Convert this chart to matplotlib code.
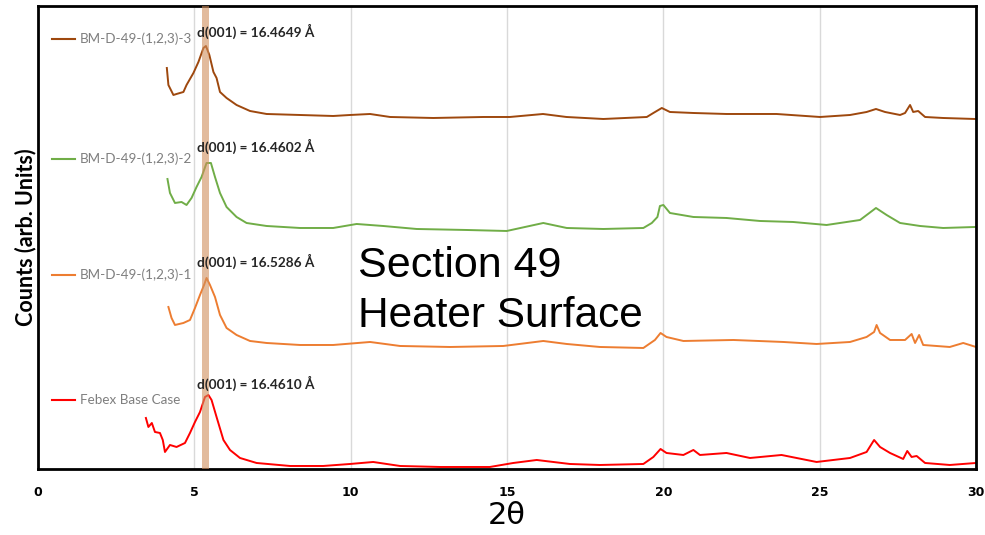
import matplotlib
matplotlib.use("Agg")
import matplotlib.pyplot as plt

# ---------------- data (arbitrary count units) ----------------
x_s3 = [4.12, 4.17, 4.33, 4.43, 4.65, 4.75, 4.97, 5.13, 5.29, 5.37, 5.48, 5.61, 5.71, 5.82,
        6.03, 6.35, 6.78, 7.31, 8.38, 9.44, 9.98, 10.62, 11.26, 12.64, 14.24, 15.09, 16.15,
        16.9, 18.08, 19.47, 19.68, 19.95, 20.21, 20.96, 22.02, 23.62, 25.01, 25.97, 26.5,
        26.8, 27.09, 27.57, 27.73, 27.89, 27.99, 28.15, 28.37, 28.95, 29.97]
y_s3 = [401, 384, 374, 375, 377, 384, 396, 407, 421, 423, 414, 397, 391, 377,
        371, 364, 358, 355, 354, 353, 354, 355, 352, 351, 352, 352, 355,
        352, 350, 352, 356, 361, 357, 356, 355, 355, 352, 354, 357,
        360, 357, 354, 356, 364, 357, 358, 352, 351, 350]

x_s2 = [4.14, 4.22, 4.38, 4.59, 4.75, 4.91, 5.07, 5.23, 5.39, 5.53, 5.66, 5.82, 6.03, 6.35,
        6.67, 7.31, 8.38, 9.44, 10.19, 11.04, 12.11, 13.71, 14.99, 16.16, 16.91, 18.08,
        19.36, 19.63, 19.81, 19.89, 20.0, 20.21, 20.96, 22.02, 23.09, 24.15, 25.22, 26.29,
        26.8, 27.14, 27.57, 28.21, 28.95, 29.97]
y_s2 = [290, 276, 266, 267, 264, 271, 282, 292, 306, 306, 292, 276, 262, 252,
        246, 243, 241, 241, 245, 243, 240, 239, 238, 246, 241, 240,
        241, 246, 252, 263, 264, 256, 252, 251, 248, 247, 244, 249,
        261, 254, 246, 243, 241, 242]

x_s1 = [4.17, 4.27, 4.38, 4.65, 4.86, 5.02, 5.18, 5.31, 5.39, 5.5, 5.66, 5.82, 6.03, 6.35,
        6.78, 7.31, 8.38, 9.44, 10.62, 11.58, 13.18, 14.88, 16.16, 16.91, 17.97, 19.36,
        19.73, 19.91, 20.1, 20.64, 22.24, 23.84, 24.9, 25.97, 26.5, 26.74, 26.82, 26.93,
        27.25, 27.73, 27.94, 28.05, 28.18, 28.31, 29.16, 29.59, 30.0]
y_s1 = [162, 151, 144, 146, 149, 161, 174, 184, 191, 184, 172, 154, 141, 134,
        128, 126, 124, 124, 127, 123, 122, 123, 128, 125, 122, 121,
        129, 136, 132, 128, 129, 127, 125, 127, 132, 137, 144, 136,
        129, 129, 135, 126, 134, 124, 122, 126, 122]

x_base = [3.45, 3.53, 3.64, 3.74, 3.9, 3.99, 4.06, 4.22, 4.43, 4.7, 4.86, 5.02, 5.18, 5.34,
          5.45, 5.55, 5.71, 5.93, 6.14, 6.46, 6.99, 8.06, 9.12, 9.98, 10.72, 11.58, 12.86,
          14.45, 15.2, 15.95, 17.01, 17.97, 19.36, 19.68, 19.91, 20.1, 20.64, 20.96, 21.17,
          22.02, 22.77, 23.78, 24.9, 25.97, 26.5, 26.74, 26.93, 27.25, 27.67, 27.8, 27.94,
          28.1, 28.37, 29.16, 30.0]
y_base = [51, 42, 46, 37, 36, 29, 17, 24, 22, 26, 36, 47, 57, 72,
          74, 69, 52, 29, 19, 11, 6, 3, 3, 5, 7, 3, 2,
          2, 6, 9, 5, 4, 5, 12, 20, 16, 14, 19, 14,
          16, 11, 14, 7, 11, 17, 29, 22, 16, 10, 18, 12,
          13, 6, 4, 6]

series_names = ["BM-D-49-(1,2,3)-3", "BM-D-49-(1,2,3)-2", "BM-D-49-(1,2,3)-1", "Febex Base Case"]
series_colors = ["#9E480E", "#70AD47", "#ED7D31", "#FF0000"]
d001_labels = ["d(001) = 16.4649 Å", "d(001) = 16.4602 Å", "d(001) = 16.5286 Å", "d(001) = 16.4610 Å"]
x_ticks = [0, 5, 10, 15, 20, 25, 30]

# ---------------- figure ----------------
fig = plt.figure(figsize=(9.85, 5.35), dpi=100)
ax = fig.add_axes([0.0386, 0.1234, 0.9523, 0.8654])

xs = [x_s3, x_s2, x_s1, x_base]
ys = [y_s3, y_s2, y_s1, y_base]
for xv, yv, c in zip(xs, ys, series_colors):
    ax.plot(xv, yv, color=c, lw=1.4, zorder=2)

# highlighted d(001) position band
ax.axvspan(5.26, 5.48, color="#D08E5C", alpha=0.6, lw=0, zorder=3)

ax.set_xlim(0, 30)
ax.set_ylim(0, 463)
ax.set_xticks(x_ticks)
ax.set_xticklabels([str(t) for t in x_ticks],
                   fontdict={"family": ["Liberation Sans Narrow", "DejaVu Sans"],
                             "weight": "bold", "size": 9})
ax.tick_params(axis="x", length=0, pad=12)
ax.set_yticks([])
ax.grid(axis="x", color="#D9D9D9", lw=1, zorder=0)
for s in ax.spines.values():
    s.set_linewidth(2)
    s.set_color("black")

ax.set_xlabel("2θ", family=["Liberation Sans Narrow", "DejaVu Sans"], size=22, labelpad=2)
ax.set_ylabel("Counts (arb. Units)", family=["Lato", "DejaVu Sans"], weight="bold", size=15.5, labelpad=1)

# inline legend entries
legend_y = [0.929, 0.670, 0.419, 0.149]
for name, c, ly in zip(series_names, series_colors, legend_y):
    ax.plot([0.015, 0.039], [ly, ly], color=c, lw=1.5, transform=ax.transAxes, clip_on=False)
    ax.text(0.045, ly, name, transform=ax.transAxes, va="center", ha="left",
            color="#7F7F7F", size=9.7, family=["Lato", "DejaVu Sans"])

# d(001) annotations
ann_y = [438, 323, 208, 86]
for lab, yy in zip(d001_labels, ann_y):
    ax.text(5.08, yy, lab, va="center", ha="left", weight="bold", size=9.8,
            family=["Lato", "DejaVu Sans"], color="#262626", zorder=4)

ax.text(10.23, 192, "Section 49", size=31, family=["Liberation Sans", "DejaVu Sans"],
        va="baseline", ha="left", zorder=4)
ax.text(10.23, 142, "Heater Surface", size=30.5, family=["Liberation Sans", "DejaVu Sans"],
        va="baseline", ha="left", zorder=4)

fig.savefig("out.png", dpi=100)
